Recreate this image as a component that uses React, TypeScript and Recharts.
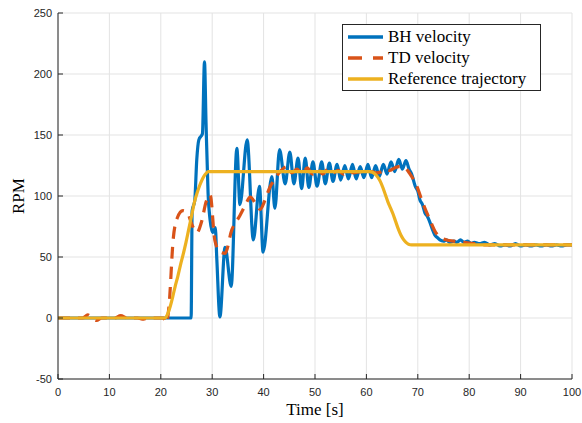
import React from 'react'
import {
  LineChart,
  Line,
  XAxis,
  YAxis,
  CartesianGrid,
  Legend,
  Label,
} from 'recharts'

// [time s, rpm]
const bhVelocity: [number, number][] = [
  [0, 0], [25.9, 0], [26.1, 88], [26.6, 96], [27.0, 130], [27.4, 146], [28.1, 151],
  [28.5, 210], [28.8, 160], [29.2, 102], [29.6, 80], [30.1, 70], [30.6, 74], [30.9, 48],
  [31.5, 1], [32.5, 58], [33.7, 26], [34.8, 139], [35.4, 93], [36.8, 146], [38.0, 64],
  [39.2, 108], [39.9, 54], [41.6, 116], [42.2, 90], [43.1, 138], [44.2, 110], [45.1, 136],
  [45.9, 110], [46.7, 131], [47.4, 106], [48.1, 131], [48.8, 107], [49.6, 128], [50.4, 108],
  [51.3, 128], [52.0, 110], [52.8, 127], [53.5, 112], [54.3, 126], [55.0, 113], [55.8, 125],
  [56.5, 114], [57.3, 126], [58.0, 114], [58.8, 124], [59.5, 115], [60.3, 126], [61.0, 115],
  [61.8, 125], [62.5, 116], [63.3, 126], [64.0, 118], [64.8, 128], [65.5, 120], [66.3, 130],
  [67.0, 122], [67.7, 129], [68.3, 122], [68.8, 118], [69.5, 108], [70.0, 104], [70.4, 97],
  [70.9, 93], [71.4, 86], [71.9, 83], [72.4, 78], [72.9, 72], [73.3, 68], [73.8, 66],
  [74.3, 64], [75.0, 63], [75.6, 64], [76.2, 62], [77.0, 63], [77.6, 62], [78.3, 64],
  [79.0, 62], [79.7, 63], [80.4, 61], [81.0, 62], [82.0, 61], [83.0, 62], [84.0, 60],
  [85.0, 61], [86.0, 59], [87.0, 60], [88.0, 59], [89.0, 61], [90.0, 59], [91.0, 60],
  [92.0, 59], [93.0, 60], [94.0, 59], [95.0, 60], [96.0, 59], [97.0, 60], [98.0, 59],
  [99.0, 60], [100, 60],
]

const tdVelocity: [number, number][] = [
  [0, 0], [4.8, 0], [5.8, 2.5], [6.6, 0], [7.5, -2], [8.5, 0], [11, 0], [12.2, 2],
  [13.5, 0], [15.5, 0], [16.4, -1], [17.5, 0], [20.5, 0], [21.1, -4], [21.6, 10],
  [22.4, 64], [23.2, 82], [24.3, 88], [25.2, 86], [26.1, 76], [27.0, 70], [28.0, 80],
  [28.8, 95], [29.6, 101], [30.5, 64], [31.5, 54], [32.5, 53], [33.8, 72], [35.4, 84],
  [36.4, 92], [37.4, 99], [38.4, 94], [39.3, 89], [40.3, 97], [41.2, 107], [42.2, 114],
  [43.2, 120], [44.5, 124], [45.5, 119], [46.5, 122], [47.5, 118], [48.5, 123], [49.5, 118],
  [50.5, 122], [51.5, 118], [52.5, 122], [53.5, 119], [54.5, 121], [55.5, 118], [56.5, 121],
  [57.5, 119], [58.8, 120], [60, 119], [61, 120], [62, 119], [63, 120], [63.6, 122],
  [64.5, 121], [65.5, 123], [66.3, 124], [67.1, 124], [68.5, 118], [69.8, 108], [71, 94],
  [72.4, 80], [73.5, 70], [74.5, 66], [75.6, 64], [77, 63], [79, 62], [81, 61], [83, 60],
  [100, 60],
]

const referenceTrajectory: [number, number][] = [
  [0, 0], [20.8, 0], [21.3, 3], [21.8, 9], [22.3, 17], [22.8, 26], [23.3, 34], [23.8, 43],
  [24.4, 53], [24.9, 62], [25.4, 72], [26.0, 84], [26.6, 96], [27.1, 103], [27.6, 109],
  [28.1, 114], [28.6, 117.5], [29.2, 120], [60.7, 120], [61.2, 119.5], [61.7, 118],
  [62.2, 115.5], [62.7, 112], [63.2, 107], [63.7, 101], [64.2, 95], [64.7, 90], [65.2, 85],
  [65.7, 79], [66.2, 73], [66.7, 68], [67.2, 64.5], [67.7, 62], [68.2, 60.5], [68.8, 60],
  [100, 60],
]

const xTicks = [0, 10, 20, 30, 40, 50, 60, 70, 80, 90, 100]
const yTicks = [-50, 0, 50, 100, 150, 200, 250]

const toRows = (pts: [number, number][]) => pts.map(([t, v]) => ({ t, v }))

const AXIS = '#262626'
const GRID = '#e3e3e3'
const BLUE = '#0072BD'
const ORANGE = '#D95319'
const YELLOW = '#EDB120'
const SERIF = '"Liberation Serif", "Times New Roman", serif'
const SANS = '"Liberation Sans", Arial, sans-serif'

const XTick = ({ x, y, payload }: any) => (
  <g>
    <line x1={x} y1={y} x2={x} y2={y - 5} stroke={AXIS} strokeWidth={1} />
    <text x={x} y={y + 17} textAnchor="middle" fontSize={11} fontFamily={SANS} fill={AXIS}>
      {payload.value}
    </text>
  </g>
)

const YTick = ({ x, y, payload }: any) => (
  <g>
    <line x1={x} y1={y} x2={x + 5} y2={y} stroke={AXIS} strokeWidth={1} />
    <text x={x - 6} y={y + 4} textAnchor="end" fontSize={11} fontFamily={SANS} fill={AXIS}>
      {payload.value}
    </text>
  </g>
)

const legendItems = [
  { name: 'BH velocity', color: BLUE, dash: undefined },
  { name: 'TD velocity', color: ORANGE, dash: '14 11' },
  { name: 'Reference trajectory', color: YELLOW, dash: undefined },
]

const LegendBox = () => (
  <div
    style={{
      border: `1px solid ${AXIS}`,
      background: '#fff',
      width: 197,
      height: 64,
      boxSizing: 'content-box',
      paddingTop: 1,
    }}
  >
    {legendItems.map((it) => (
      <div key={it.name} style={{ display: 'flex', alignItems: 'center', height: 21 }}>
        <svg width={44} height={10} style={{ marginLeft: 4 }}>
          <line
            x1={1}
            y1={5}
            x2={36}
            y2={5}
            stroke={it.color}
            strokeWidth={3.5}
            strokeDasharray={it.dash}
          />
        </svg>
        <span style={{ fontFamily: SERIF, fontSize: 17, color: '#000', marginLeft: -3 }}>
          {it.name}
        </span>
      </div>
    ))}
  </div>
)

export default function App() {
  return (
    <div style={{ position: 'absolute', left: 0, top: 0, background: '#fff' }}>
      <LineChart width={582} height={423} margin={{ top: 13, right: 10, bottom: 0, left: 0 }}>
        <CartesianGrid stroke={GRID} strokeWidth={1} />
        <XAxis
          dataKey="t"
          type="number"
          domain={[0, 100]}
          ticks={xTicks}
          interval={0}
          height={44}
          tickSize={0}
          tickMargin={0}
          tickLine={false}
          axisLine={{ stroke: AXIS, strokeWidth: 1 }}
          tick={<XTick />}
          allowDataOverflow
        >
          <Label
            value="Time [s]"
            position="insideBottom"
            offset={8}
            style={{ fontFamily: SERIF, fontSize: 17, fill: '#000' }}
          />
        </XAxis>
        <YAxis
          type="number"
          domain={[-50, 250]}
          ticks={yTicks}
          interval={0}
          width={58}
          tickSize={0}
          tickMargin={0}
          tickLine={false}
          axisLine={{ stroke: AXIS, strokeWidth: 1 }}
          tick={<YTick />}
          allowDataOverflow
        >
          <Label
            content={({ viewBox }: any) => {
              const cy = viewBox.y + viewBox.height / 2
              return (
                <text
                  x={24}
                  y={cy}
                  transform={`rotate(-90 24 ${cy})`}
                  textAnchor="middle"
                  fontFamily={SERIF}
                  fontSize={17}
                  fill="#000"
                >
                  RPM
                </text>
              )
            }}
          />
        </YAxis>
        <Line
          data={toRows(bhVelocity)}
          dataKey="v"
          name="BH velocity"
          type="monotone"
          stroke={BLUE}
          strokeWidth={3.2}
          dot={false}
          isAnimationActive={false}
        />
        <Line
          data={toRows(tdVelocity)}
          dataKey="v"
          name="TD velocity"
          type="monotone"
          stroke={ORANGE}
          strokeWidth={3.2}
          strokeDasharray="12 8"
          dot={false}
          isAnimationActive={false}
        />
        <Line
          data={toRows(referenceTrajectory)}
          dataKey="v"
          name="Reference trajectory"
          type="monotone"
          stroke={YELLOW}
          strokeWidth={3.2}
          dot={false}
          isAnimationActive={false}
        />
        <Legend
          layout="vertical"
          align="center"
          verticalAlign="middle"
          content={<LegendBox />}
          wrapperStyle={{ position: 'absolute', left: 342, top: 24, width: 'auto', margin: 0 }}
        />
      </LineChart>
    </div>
  )
}
